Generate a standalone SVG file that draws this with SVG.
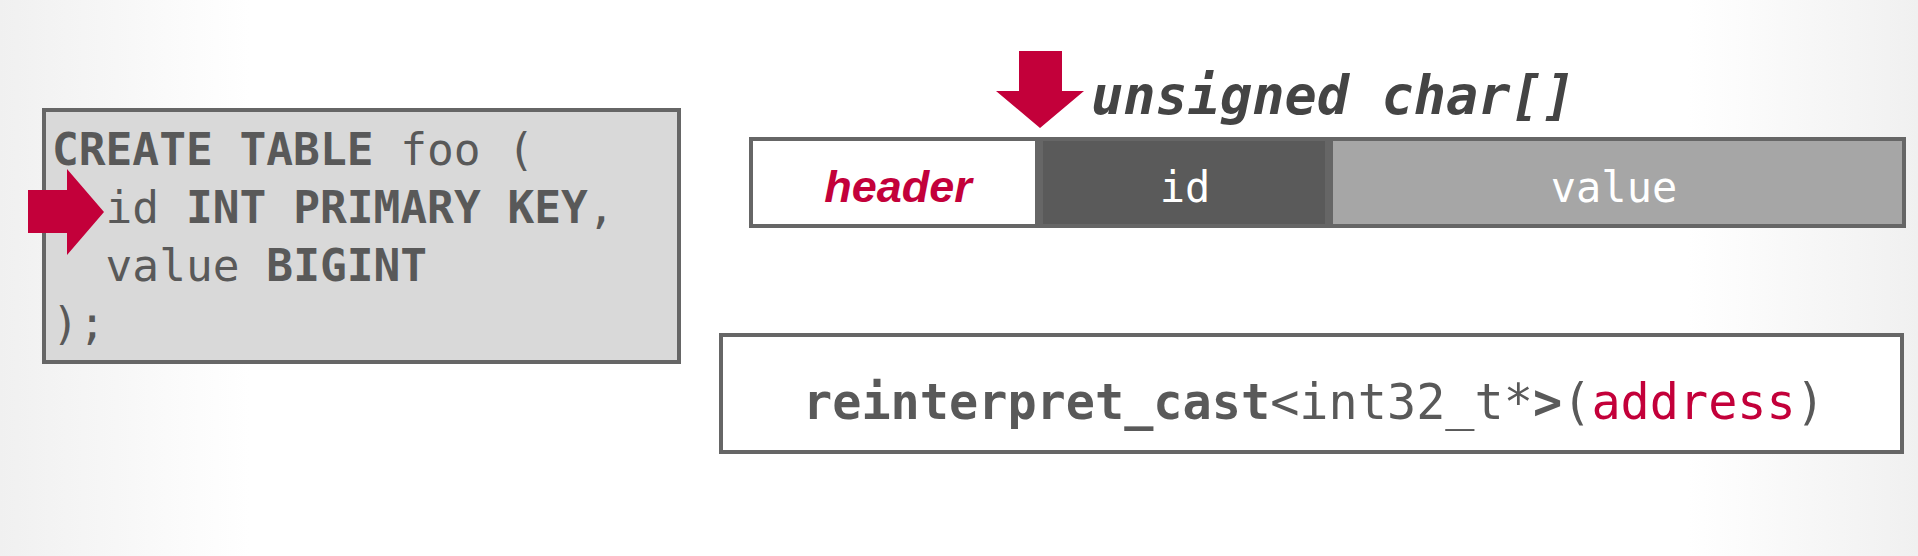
<svg xmlns="http://www.w3.org/2000/svg" width="1918" height="556" viewBox="0 0 1918 556">
  <defs>
    <linearGradient id="bg" x1="0" y1="0" x2="1" y2="0">
      <stop offset="0" stop-color="#f0f0f0"/>
      <stop offset="0.13" stop-color="#ffffff"/>
      <stop offset="0.88" stop-color="#ffffff"/>
      <stop offset="1" stop-color="#f0f0f0"/>
    </linearGradient>
  </defs>
  <style>
    .mono { font-family: "DejaVu Sans Mono", "Liberation Mono", monospace; }
    .code { font-size: 44.5px; fill: #595959; }
    .b { font-weight: bold; }
    .box { stroke: #666666; stroke-width: 4; }
    .red { fill: #c3003a; }
    .seg { font-size: 42px; fill: #ffffff; text-anchor: middle; }
  </style>
  <rect x="0" y="0" width="1918" height="556" fill="url(#bg)"/>

  <g id="schema">
    <rect class="box" x="44" y="110" width="635" height="252" fill="#d9d9d9"/>
    <text class="mono code" x="52" y="165"><tspan class="b">CREATE TABLE</tspan> foo (</text>
    <text class="mono code" x="52" y="223" xml:space="preserve">  id <tspan class="b">INT PRIMARY KEY</tspan>,</text>
    <text class="mono code" x="52" y="281" xml:space="preserve">  value <tspan class="b">BIGINT</tspan></text>
    <text class="mono code" x="52" y="339">);</text>
  </g>

  <g id="arrow-left">
    <polygon class="red" points="28,190 67,190 67,169 104,212 67,255 67,233 28,233"/>
  </g>

  <g id="label-unsigned">
    <text class="mono" x="1091" y="114" font-size="53" font-weight="bold" font-style="italic" fill="#444444" textLength="484" lengthAdjust="spacingAndGlyphs">unsigned char[]</text>
  </g>

  <g id="arrow-down">
    <polygon class="red" points="1019,51 1062,51 1062,91 1084,91 1040,128 996,91 1019,91"/>
  </g>

  <g id="tuple">
    <rect class="box" x="751" y="139" width="1153" height="87" fill="#a6a6a6"/>
    <g id="seg-header">
      <rect class="box" x="751" y="139" width="286" height="87" fill="#ffffff"/>
      <text x="898" y="202" font-family="'Liberation Sans', Arial, sans-serif" font-size="45" font-weight="bold" font-style="italic" fill="#c3003a" text-anchor="middle">header</text>
    </g>
    <g id="seg-id">
      <rect class="box" x="1041" y="139" width="286" height="87" fill="#5a5a5a"/>
      <text class="mono seg" x="1185" y="202">id</text>
    </g>
    <g id="seg-value">
      <rect class="box" x="1331" y="139" width="573" height="87" fill="#a6a6a6"/>
      <text class="mono seg" x="1614" y="202">value</text>
    </g>
  </g>

  <g id="cast">
    <rect class="box" x="721" y="335" width="1181" height="117" fill="#ffffff"/>
    <text class="mono" x="803" y="419" font-size="49" fill="#595959" textLength="1022" lengthAdjust="spacingAndGlyphs"><tspan class="b">reinterpret_cast</tspan>&lt;int32_t*<tspan class="b">&gt;</tspan>(<tspan class="red">address</tspan>)</text>
  </g>

  <g id="connectors"></g>
</svg>
